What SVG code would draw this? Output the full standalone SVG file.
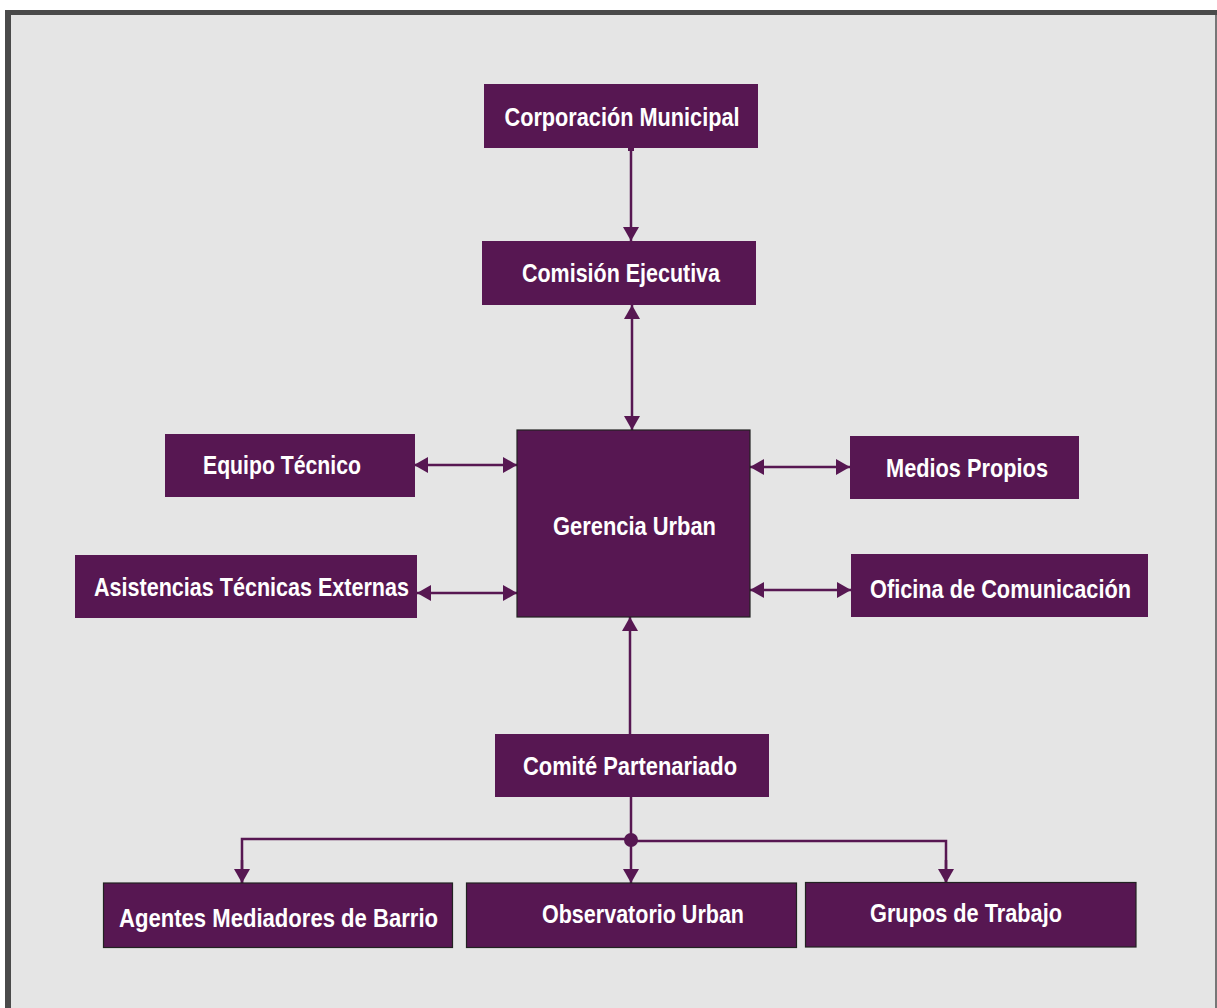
<svg xmlns="http://www.w3.org/2000/svg" width="1217" height="1008" viewBox="0 0 1217 1008">
<style>
.box{fill:#571752;}
.boxb{fill:#571752;stroke:#222;stroke-width:1.2;}
.lbl{fill:#fff;font-family:"Liberation Sans Narrow","Liberation Sans",Arial,sans-serif;font-weight:bold;font-size:26px;text-anchor:middle;}
.ln{stroke:#571752;stroke-width:2.5;fill:none;}
</style>
<defs>
<marker id="ah" viewBox="0 0 14 16" refX="14" refY="8" markerWidth="14" markerHeight="16" markerUnits="userSpaceOnUse" orient="auto-start-reverse">
<path d="M0,0 L14,8 L0,16 Z" fill="#571752"/>
</marker>
</defs>
<rect x="0" y="0" width="1217" height="1008" fill="#ffffff"/>
<rect x="5" y="10" width="1212" height="998" fill="#4a4a4a"/>
<rect x="11" y="15" width="1204" height="993" fill="#e5e5e5"/>
<rect x="1215" y="15" width="2" height="993" fill="#777"/>

<g id="connectors">
<line class="ln" x1="631" y1="149" x2="631" y2="241" marker-end="url(#ah)"/>
<rect x="628" y="146" width="6" height="5" fill="#571752"/>
<line class="ln" x1="632" y1="305" x2="632" y2="430" marker-start="url(#ah)" marker-end="url(#ah)"/>
<line class="ln" x1="414" y1="465" x2="517" y2="465" marker-start="url(#ah)" marker-end="url(#ah)"/>
<line class="ln" x1="417" y1="593" x2="517" y2="593" marker-start="url(#ah)" marker-end="url(#ah)"/>
<line class="ln" x1="750" y1="467" x2="850" y2="467" marker-start="url(#ah)" marker-end="url(#ah)"/>
<line class="ln" x1="750" y1="590" x2="851" y2="590" marker-start="url(#ah)" marker-end="url(#ah)"/>
<line class="ln" x1="630" y1="734" x2="630" y2="617" marker-end="url(#ah)"/>
<line class="ln" x1="631" y1="797" x2="631" y2="840"/>
<polyline class="ln" points="242,883 242,839 631,839"/>
<polyline class="ln" points="631,841 946,841 946,883"/>
<line class="ln" x1="242" y1="860" x2="242" y2="883" marker-end="url(#ah)"/>
<line class="ln" x1="631" y1="840" x2="631" y2="883" marker-end="url(#ah)"/>
<line class="ln" x1="946" y1="860" x2="946" y2="883" marker-end="url(#ah)"/>
<circle cx="631" cy="840" r="7" fill="#571752"/>
</g>

<g id="corporacion"><rect class="box" x="484" y="84" width="274" height="64"/><text class="lbl" x="622" y="126" textLength="235" lengthAdjust="spacingAndGlyphs">Corporación Municipal</text></g>
<g id="comision"><rect class="box" x="482" y="241" width="274" height="64"/><text class="lbl" x="621" y="282" textLength="198" lengthAdjust="spacingAndGlyphs">Comisión Ejecutiva</text></g>
<g id="gerencia"><rect class="boxb" x="517" y="430" width="233" height="187"/><text class="lbl" x="634.5" y="535" textLength="163" lengthAdjust="spacingAndGlyphs">Gerencia Urban</text></g>
<g id="equipo"><rect class="box" x="165" y="434" width="250" height="63"/><text class="lbl" x="282" y="474" textLength="158" lengthAdjust="spacingAndGlyphs">Equipo Técnico</text></g>
<g id="medios"><rect class="box" x="850" y="436" width="229" height="63"/><text class="lbl" x="967" y="477" textLength="162" lengthAdjust="spacingAndGlyphs">Medios Propios</text></g>
<g id="asistencias"><rect class="box" x="75" y="555" width="342" height="63"/><text class="lbl" x="251.5" y="596" textLength="315" lengthAdjust="spacingAndGlyphs">Asistencias Técnicas Externas</text></g>
<g id="oficina"><rect class="box" x="851" y="554" width="297" height="63"/><text class="lbl" x="1000.5" y="598" textLength="261" lengthAdjust="spacingAndGlyphs">Oficina de Comunicación</text></g>
<g id="comite"><rect class="box" x="495" y="734" width="274" height="63"/><text class="lbl" x="630" y="775" textLength="214" lengthAdjust="spacingAndGlyphs">Comité Partenariado</text></g>
<g id="agentes"><rect class="boxb" x="103.5" y="883" width="349" height="64.5"/><text class="lbl" x="278.5" y="927" textLength="319" lengthAdjust="spacingAndGlyphs">Agentes Mediadores de Barrio</text></g>
<g id="observatorio"><rect class="boxb" x="466.5" y="883" width="330" height="64.5"/><text class="lbl" x="643" y="923" textLength="202" lengthAdjust="spacingAndGlyphs">Observatorio Urban</text></g>
<g id="grupos"><rect class="boxb" x="805.5" y="882.5" width="330.5" height="64.5"/><text class="lbl" x="966" y="922" textLength="192" lengthAdjust="spacingAndGlyphs">Grupos de Trabajo</text></g>
</svg>
